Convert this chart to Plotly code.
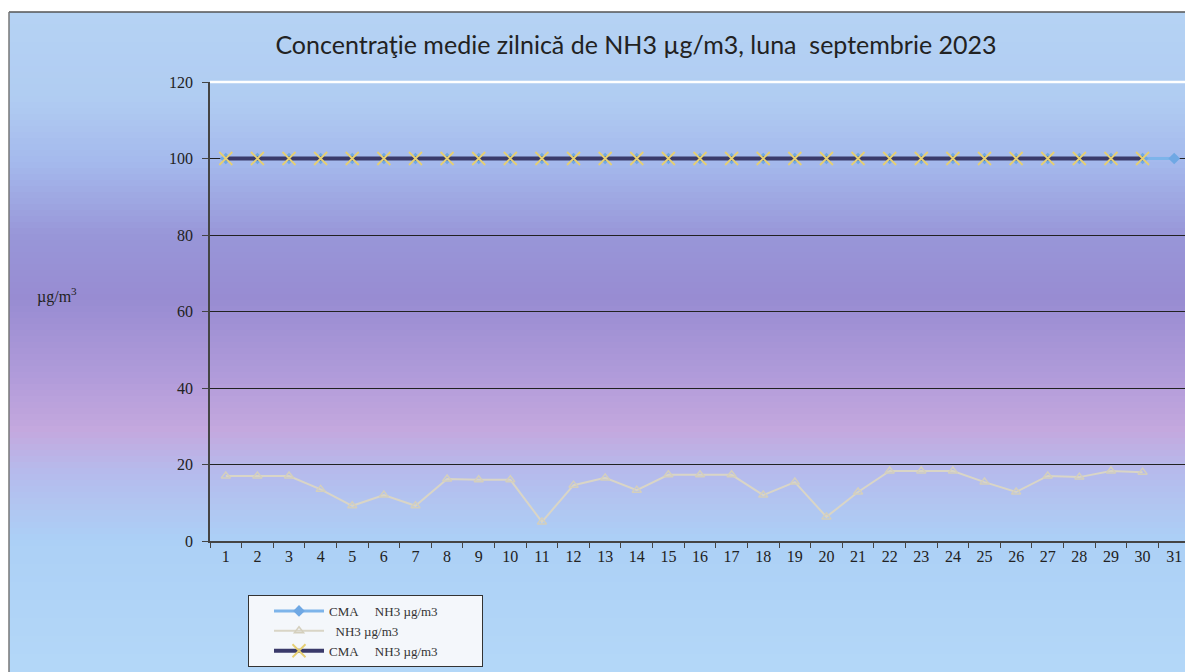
import plotly.graph_objects as go

days = [str(d) for d in range(1, 32)]
cma_all_days = [100] * 31
nh3_values = [17, 17, 17, 13.5, 9.2, 12, 9.2, 16.2, 16, 16, 5, 14.6, 16.5, 13.3, 17.3,
              17.3, 17.3, 12, 15.4, 6.3, 12.8, 18.3, 18.3, 18.3, 15.4, 12.8, 17, 16.7, 18.3, 18]
cma_30_days = [100] * 30
y_ticks = [0, 20, 40, 60, 80, 100, 120]

# page body has an 8px margin: convert screen pixels into figure pixels
OX, OY = 8, 8
W, H = 1193, 672
SL, SR, ST, SB = 210, 1190, 82, 541          # plot area on screen
L, T = SL - OX, ST - OY
R = W - (SR - OX)
B = H - (SB - OY)
pw, ph = W - L - R, H - T - B

def px_x(p):
    return (p - OX - L) / pw

def px_y(p):
    return (H - B - (p - OY)) / ph

stops = [(0, (182, 212, 244)), (100, (176, 204, 242)), (165, (164, 184, 236)),
         (235, (152, 150, 216)), (300, (152, 140, 210)), (380, (178, 156, 218)),
         (430, (196, 168, 222)), (470, (182, 186, 236)), (540, (172, 208, 246)),
         (680, (180, 216, 248))]

def col_at(py):
    for (y0, c0), (y1, c1) in zip(stops[:-1], stops[1:]):
        if y0 <= py <= y1:
            t = (py - y0) / (y1 - y0)
            return "rgb(%d,%d,%d)" % tuple(round(a + (b - a) * t) for a, b in zip(c0, c1))
    return "rgb(%d,%d,%d)" % stops[-1][1]

shapes = []
step = 6
for py in range(12, H + 10, step):
    shapes.append(dict(type="rect", xref="paper", yref="paper",
                       x0=px_x(9), x1=px_x(W + 20), y0=px_y(py + step + 1), y1=px_y(py),
                       fillcolor=col_at(py + step / 2), line=dict(width=0), layer="below"))
shapes.append(dict(type="line", xref="paper", yref="paper", x0=px_x(9), x1=px_x(W + 20),
                   y0=px_y(12), y1=px_y(12), line=dict(color="#555", width=1.5)))
shapes.append(dict(type="line", xref="paper", yref="paper", x0=px_x(9), x1=px_x(9),
                   y0=px_y(12), y1=px_y(H + 20), line=dict(color="#777", width=1.5)))
shapes.append(dict(type="line", xref="paper", yref="paper", x0=0, x1=1, y0=1, y1=1,
                   line=dict(color="white", width=2.5)))

NB = "\u00a0"
name_cma1 = "CMA" + NB * 5 + "NH3 µg/m3" + NB * 12
name_nh3 = NB * 2 + "NH3 µg/m3"
name_cma2 = "CMA" + NB * 5 + "NH3 µg/m3" + NB

fig = go.Figure()
fig.add_trace(go.Scatter(x=days, y=cma_all_days, name=name_cma1, mode="lines+markers",
                         line=dict(color="#7db4ea", width=3),
                         marker=dict(symbol="diamond", size=9, color="#6fa8e4")))
fig.add_trace(go.Scatter(x=days[:30], y=nh3_values, name=name_nh3, mode="lines+markers",
                         line=dict(color="#d9d5c6", width=2),
                         marker=dict(symbol="triangle-up", size=8, color="rgba(0,0,0,0)",
                                     line=dict(color="#d4cfbd", width=1.5))))
fig.add_trace(go.Scatter(x=days[:30], y=cma_30_days, name=name_cma2, mode="lines+markers",
                         line=dict(color="#3a3a6a", width=4),
                         marker=dict(symbol="x-thin", size=13,
                                     line=dict(color="#e6cf72", width=1.8))))

fig.update_layout(
    width=W, height=H,
    margin=dict(l=L, r=R, t=T, b=B, autoexpand=False),
    paper_bgcolor="white", plot_bgcolor="rgba(0,0,0,0)",
    shapes=shapes,
    showlegend=True,
    legend=dict(x=px_x(248), y=px_y(595), xanchor="left", yanchor="top",
                bgcolor="#f4f7fb", bordercolor="#333", borderwidth=1,
                font=dict(family="Liberation Serif", size=13, color="#333"),
                itemwidth=50, tracegroupgap=0, indentation=20),
    title=dict(text="Concentraţie medie zilnică de NH3 µg/m3, luna  septembrie 2023",
               x=(636 - OX) / W, xanchor="center", y=1 - (45 - OY) / H, yanchor="middle",
               font=dict(family="Lato", size=25, color="#222")),
    annotations=[dict(text="µg/m<sup>3</sup>", xref="paper", yref="paper",
                      x=px_x(57), y=px_y(295), xanchor="center", yanchor="middle",
                      showarrow=False, font=dict(family="Liberation Serif", size=16, color="#222"))],
)
fig.update_xaxes(type="category", range=[-0.5, 30.5], showgrid=False, showline=True,
                 linecolor="#444", linewidth=1.5, ticks="outside", tickson="boundaries",
                 ticklen=5, tickcolor="#444",
                 tickfont=dict(family="Liberation Serif", size=16, color="#222"))
fig.update_yaxes(range=[0, 120], tickvals=y_ticks, showgrid=True, gridcolor="#222", gridwidth=1,
                 showline=True, linecolor="#444", linewidth=1.5, ticks="outside", ticklen=6,
                 tickcolor="#444", zeroline=False, ticklabelstandoff=6,
                 tickfont=dict(family="Liberation Serif", size=16, color="#222"))

fig.write_html("out.html")
